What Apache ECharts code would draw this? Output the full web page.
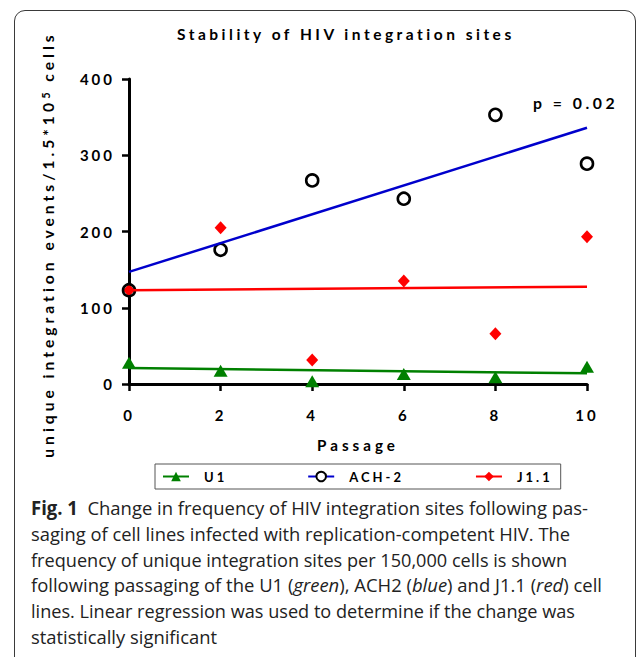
<!DOCTYPE html>
<html>
<head>
<meta charset="utf-8">
<script src="https://cdn.jsdelivr.net/npm/echarts@6/dist/echarts.min.js"></script>
<style>
html,body{margin:0;padding:0;background:#fff;}
#wrap{position:relative;width:636px;height:657px;overflow:hidden;background:#fff;}
#chart{position:absolute;left:0;top:0;width:636px;height:657px;}
#frame{position:absolute;left:14px;top:10px;width:622px;height:720px;border:1px solid #3a3a3a;border-radius:11px;box-sizing:border-box;pointer-events:none;}
.cap{position:absolute;left:31px;white-space:nowrap;font-family:"Open Sans",sans-serif;font-size:19px;line-height:25.8px;color:#222;transform-origin:0 50%;}
.cap b{font-weight:700;}
/* letter spacing of the chart texts (SVG renderer) */
#chart text[style*="15.5px"]{letter-spacing:3.5px;}
#chart text[style*="15px"]{letter-spacing:3px;}
#chart text[style*="15.2px"]{letter-spacing:4px;}
#chart text[style*="15.6px"]{letter-spacing:4px;}
#chart text[style*="13px"]{letter-spacing:3px;}
#chart text[style*="15.8px"]{letter-spacing:3.5px;}
</style>
</head>
<body>
<div id="wrap">
  <div id="chart"></div>
  <div id="frame"></div>
  <div id="caption"></div>
</div>
<script>
// ---- data ----
const passages = [0, 2, 4, 6, 8, 10];
const seriesNames = ['U1', 'ACH-2', 'J1.1'];
const u1Values = [28, 17.5, 3.5, 13, 9, 22.5];
const ach2Values = [123, 176, 267, 243, 353, 289];
const j11Values = [123, 205, 31.5, 135, 66, 193];
// linear regression lines (end points)
const fitPassages = [0, 10];
const u1Fit = [21, 14];
const ach2Fit = [147, 336];
const j11Fit = [123, 127.5];
const yMin = 0, yMax = 400, yStep = 100;
const xMin = 0, xMax = 10, xStep = 2;
const titleText = 'Stability of HIV integration sites';
const xAxisName = 'Passage';
const yAxisNameParts = ['unique integration events/1.5*10', '5', ' cells']; // middle part is a superscript
const pValueText = 'p = 0.02';
const captionLines = [
  '<b>Fig. 1</b>&nbsp; Change in frequency of HIV integration sites following pas-',
  'saging of cell lines infected with replication-competent HIV. The',
  'frequency of unique integration sites per 150,000 cells is shown',
  'following passaging of the U1 (<i>green</i>), ACH2 (<i>blue</i>) and J1.1 (<i>red</i>) cell',
  'lines. Linear regression was used to determine if the change was',
  'statistically significant'
];
const captionLineEnds = [589, 571, 568, 603, 576, 218];

// ---- chart ----
const FONT = 'Lato';
const colors = {U1: '#008000', ACH: '#0000cc', ACHsym: '#000000', J: '#ff0000'};
const pairs = (xs, ys) => xs.map((x, i) => [x, ys[i]]);

// widths of letter-spaced text pieces (so rich-text pieces don't overlap)
const mctx = document.createElement('canvas').getContext('2d');
function spacedWidth(text, font, ls) {
  mctx.font = font;
  return mctx.measureText(text).width + text.length * ls;
}
const yNameFont = 'bold 15.6px ' + FONT;
const ySupFont = 'bold 11px ' + FONT;
const wA = spacedWidth(yAxisNameParts[0], yNameFont, 4);
const wS = spacedWidth(yAxisNameParts[1], ySupFont, 0) + 3;
const wB = spacedWidth(yAxisNameParts[2], yNameFont, 4);

const axisCommon = {
  axisLine: {show: true, onZero: false, lineStyle: {color: '#000', width: 3}},
  axisTick: {show: true, length: 7, lineStyle: {color: '#000', width: 2.5}},
  splitLine: {show: false},
  axisLabel: {color: '#000', fontFamily: FONT, fontWeight: 'bold', fontSize: 15}
};

const chart = echarts.init(document.getElementById('chart'), null, {renderer: 'svg'});
chart.setOption({
  animation: false,
  backgroundColor: 'transparent',
  title: {
    text: titleText, left: 177, top: 26, padding: 0,
    textStyle: {fontFamily: FONT, fontWeight: 'bold', fontSize: 15.5, color: '#000'}
  },
  grid: {left: 129, right: 49, top: 79, bottom: 273},
  xAxis: Object.assign({}, axisCommon, {
    type: 'value', min: xMin, max: xMax, interval: xStep,
    name: xAxisName, nameLocation: 'middle', nameGap: 53,
    nameTextStyle: {fontFamily: FONT, fontWeight: 'bold', fontSize: 15.2, color: '#000'},
    axisLabel: Object.assign({}, axisCommon.axisLabel, {margin: 23})
  }),
  yAxis: Object.assign({}, axisCommon, {
    type: 'value', min: yMin, max: yMax, interval: yStep,
    name: '{a|' + yAxisNameParts[0] + '}{s|' + yAxisNameParts[1] + '}{a2|' + yAxisNameParts[2] + '}',
    nameLocation: 'middle', nameRotate: 90, nameGap: 73,
    nameTextStyle: {
      fontFamily: FONT, fontWeight: 'bold', fontSize: 15.6, color: '#000', padding: [0, 26, 0, 0],
      rich: {
        a: {fontFamily: FONT, fontWeight: 'bold', fontSize: 15.6, color: '#000', width: wA, align: 'left'},
        s: {fontFamily: FONT, fontWeight: 'bold', fontSize: 11, color: '#000', width: wS, align: 'left', verticalAlign: 'top'},
        a2: {fontFamily: FONT, fontWeight: 'bold', fontSize: 15.6, color: '#000', width: wB, align: 'left'}
      }
    },
    axisLabel: Object.assign({}, axisCommon.axisLabel, {margin: 14})
  }),
  legend: {
    data: seriesNames, left: 155, top: 464, orient: 'horizontal',
    itemWidth: 26, itemHeight: 12, itemGap: 86,
    padding: [6, 20, 6, 7], borderColor: '#555', borderWidth: 1,
    textStyle: {fontFamily: FONT, fontWeight: 'bold', fontSize: 13, color: '#000', padding: [0, 0, 0, 10]}
  },
  graphic: [{
    type: 'text', left: 533, top: 94,
    style: {text: pValueText, fontFamily: FONT, fontWeight: 'bold', fontSize: 15.8, fill: '#000'}
  }],
  series: [
    {name: 'U1', type: 'line', data: pairs(fitPassages, u1Fit), symbol: 'triangle', showSymbol: false,
     lineStyle: {color: colors.U1, width: 2.5}, itemStyle: {color: colors.U1}, silent: true},
    {name: 'ACH-2', type: 'line', data: pairs(fitPassages, ach2Fit), symbol: 'emptyCircle', showSymbol: false,
     lineStyle: {color: colors.ACH, width: 2.5}, itemStyle: {color: colors.ACHsym}, silent: true},
    {name: 'J1.1', type: 'line', data: pairs(fitPassages, j11Fit), symbol: 'diamond', showSymbol: false,
     lineStyle: {color: colors.J, width: 2.5}, itemStyle: {color: colors.J}, silent: true},
    {name: 'J1.1', type: 'scatter', data: pairs(passages, j11Values), symbol: 'diamond', symbolSize: [12, 13],
     itemStyle: {color: colors.J, opacity: 1}},
    {name: 'U1', type: 'scatter', data: pairs(passages, u1Values), symbol: 'triangle', symbolSize: [14, 12],
     itemStyle: {color: colors.U1, opacity: 1}},
    {name: 'ACH-2', type: 'scatter', data: pairs(passages, ach2Values), symbol: 'circle', symbolSize: 12,
     itemStyle: {color: 'rgba(0,0,0,0)', borderColor: '#000', borderWidth: 2.6, opacity: 1}}
  ]
});

// ---- caption ----
const cap = document.getElementById('caption');
captionLines.forEach((html, i) => {
  const d = document.createElement('div');
  d.className = 'cap';
  d.style.top = (496 + i * 25.8) + 'px';
  d.innerHTML = html;
  cap.appendChild(d);
  const w = d.getBoundingClientRect().width;
  const target = captionLineEnds[i] - 32;
  d.style.transform = 'scaleX(' + (target / w).toFixed(4) + ')';
});
</script>
</body>
</html>
